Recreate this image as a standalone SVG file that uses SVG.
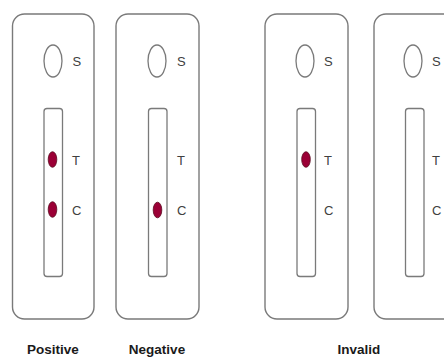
<svg xmlns="http://www.w3.org/2000/svg" width="444" height="358" viewBox="0 0 444 358">
  <style>
    .card { fill: #ffffff; stroke: #7a7a7a; stroke-width: 1.4; }
    .well { fill: none; stroke: #7a7a7a; stroke-width: 1.3; }
    .strip { fill: #ffffff; stroke: #7a7a7a; stroke-width: 1.3; }
    .dot { fill: #9b0036; stroke: #5a0a20; stroke-width: 0.8; }
    .mark { font-family: "Liberation Sans", Arial, sans-serif; font-size: 13px; fill: #404040; }
    .caption { font-family: "Liberation Sans", Arial, sans-serif; font-size: 13.5px; font-weight: bold; fill: #1a1a1a; text-anchor: middle; }
  </style>
  <rect width="444" height="358" fill="#ffffff"/>

  <!-- Positive cassette: T and C lines both show -->
  <g id="cassette-positive">
    <rect class="card" x="12.5" y="14" width="81.5" height="305" rx="12"/>
    <ellipse class="well" cx="53" cy="61" rx="9" ry="16"/>
    <text class="mark" x="72.5" y="66">S</text>
    <rect class="strip" x="44" y="108.5" width="18.5" height="168" rx="3"/>
    <ellipse class="dot" cx="52.5" cy="159.5" rx="4.3" ry="7.8"/>
    <ellipse class="dot" cx="52.5" cy="209.5" rx="4.3" ry="7.8"/>
    <text class="mark" x="72" y="165">T</text>
    <text class="mark" x="72" y="215">C</text>
  </g>

  <!-- Negative cassette: only C line -->
  <g id="cassette-negative">
    <rect class="card" x="116" y="14" width="83" height="305" rx="12"/>
    <ellipse class="well" cx="157" cy="61" rx="9" ry="16"/>
    <text class="mark" x="177" y="66">S</text>
    <rect class="strip" x="148.5" y="108.5" width="18.5" height="168" rx="3"/>
    <ellipse class="dot" cx="157.5" cy="210" rx="4.3" ry="7.8"/>
    <text class="mark" x="177" y="165">T</text>
    <text class="mark" x="177" y="215">C</text>
  </g>

  <!-- Invalid cassette: T line only -->
  <g id="cassette-invalid-t">
    <rect class="card" x="265" y="14" width="83" height="305" rx="12"/>
    <ellipse class="well" cx="305" cy="61" rx="9" ry="16"/>
    <text class="mark" x="324" y="66">S</text>
    <rect class="strip" x="297" y="108.5" width="18.5" height="168" rx="3"/>
    <ellipse class="dot" cx="306" cy="159.5" rx="4.3" ry="7.8"/>
    <text class="mark" x="324" y="165">T</text>
    <text class="mark" x="324" y="215">C</text>
  </g>

  <!-- Invalid cassette: no lines -->
  <g id="cassette-invalid-none">
    <rect class="card" x="374" y="14" width="83" height="305" rx="12"/>
    <ellipse class="well" cx="413" cy="61" rx="9" ry="16"/>
    <text class="mark" x="432" y="66">S</text>
    <rect class="strip" x="405.5" y="108.5" width="18.5" height="168" rx="3"/>
    <text class="mark" x="432" y="165">T</text>
    <text class="mark" x="432" y="215">C</text>
  </g>

  <!-- Captions -->
  <g id="captions">
    <text class="caption" x="53" y="354">Positive</text>
    <text class="caption" x="157" y="354">Negative</text>
    <text class="caption" x="359" y="354">Invalid</text>
  </g>
</svg>
